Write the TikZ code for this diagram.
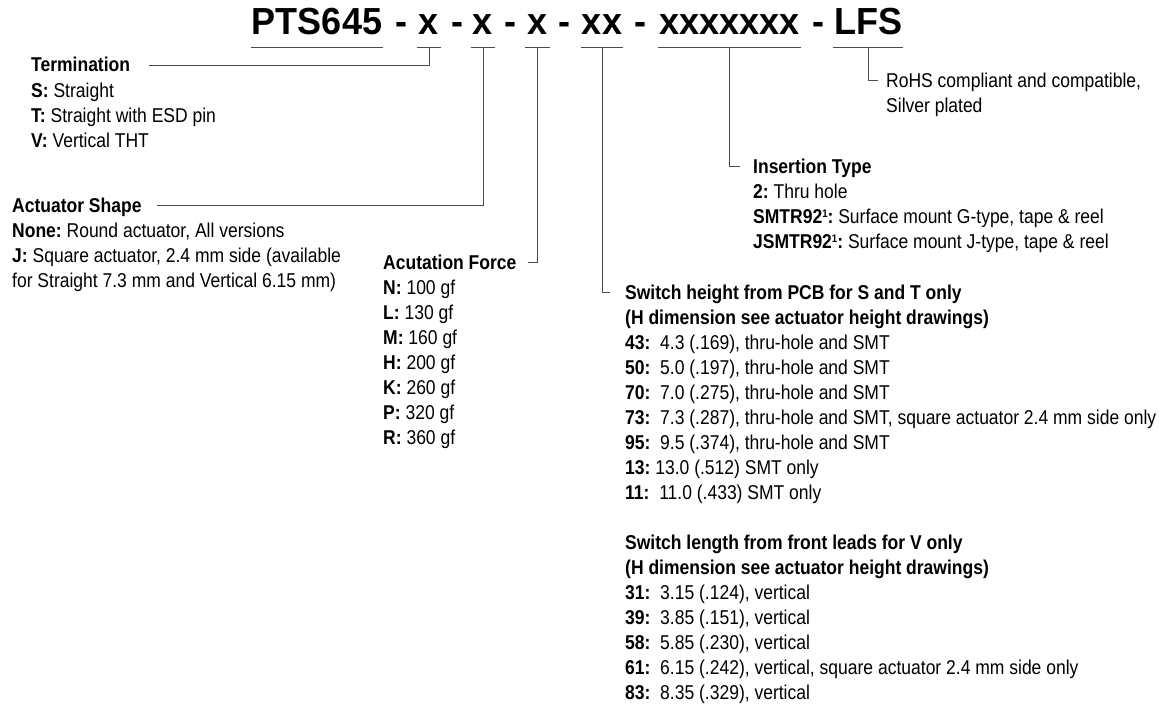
\documentclass[tikz,border=0pt]{standalone}
\usepackage{fontspec}
\setmainfont[FakeStretch=0.875]{Liberation Sans}
\newfontfamily\titlefont[FakeStretch=0.955]{Liberation Sans}
\newcommand\supone{\raisebox{6pt}{\fontsize{11}{11}\selectfont 1}}
\frenchspacing
\usetikzlibrary{positioning}
\tikzset{
  rule/.style={draw=black!70, line width=0.9pt},
  part/.style={font=\titlefont\bfseries\fontsize{37.7}{40}\selectfont, inner sep=0pt, anchor=base},
  hdr/.style={font=\bfseries\fontsize{20}{25}\selectfont, inner sep=0pt, anchor=base west},
  items/.style={font=\fontsize{20}{25}\selectfont, inner sep=0pt, align=left, anchor=north west},
}
\begin{document}
\begin{tikzpicture}[x=1pt,y=-1pt]
    \useasboundingbox (0,0) rectangle (1159,706);
    % part number
    \node[part] (pn) at (317,35) {PTS645};
    \node[part] (d1) at (401,35) {-};
    \node[part] (fa) at (429,35) {x};
    \node[part] (d2) at (457,35) {-};
    \node[part] (fb) at (483,35) {x};
    \node[part] (d3) at (510,35) {-};
    \node[part] (fc) at (537.5,35) {x};
    \node[part] (d4) at (564,35) {-};
    \node[part] (fd) at (602,35) {xx};
    \node[part] (d5) at (640,35) {-};
    \node[part] (fe) at (729.5,35) {xxxxxxx};
    \node[part] (d6) at (818,35) {-};
    \node[part] (fl) at (868,35) {LFS};
    \draw[rule] ([shift={(-1pt,-12pt)}]pn.base west) -- ([shift={(1pt,-12pt)}]pn.base east);
    \draw[rule] ([shift={(-2pt,-12pt)}]fa.base west) -- ([shift={(2pt,-12pt)}]fa.base east);
    \draw[rule] ([shift={(-2pt,-12pt)}]fb.base west) -- ([shift={(2pt,-12pt)}]fb.base east);
    \draw[rule] ([shift={(-2pt,-12pt)}]fc.base west) -- ([shift={(2pt,-12pt)}]fc.base east);
    \draw[rule] ([shift={(-1pt,-12pt)}]fd.base west) -- ([shift={(1pt,-12pt)}]fd.base east);
    \draw[rule] ([shift={(-1pt,-12pt)}]fe.base west) -- ([shift={(1pt,-12pt)}]fe.base east);
    \draw[rule] ([shift={(-1pt,-12pt)}]fl.base west) -- ([shift={(1pt,-12pt)}]fl.base east);
    % termination
    \node[hdr] (term) at (31,72) {Termination};
    \node[items, below=11pt of term.base west, anchor=north west] (termlist)
        {\textbf{S:} Straight\\ \textbf{T:} Straight with ESD pin\\ \textbf{V:} Vertical THT};
    \draw[rule] ([yshift=-12pt]fa.base) |- ([shift={(19pt,7pt)}]term.base east);
    % actuator shape
    \node[hdr] (shape) at (12,212) {Actuator Shape};
    \node[items, below=11pt of shape.base west, anchor=north west] (shapelist)
        {\textbf{None:} Round actuator, All versions\\
         \textbf{J:} Square actuator, 2.4 mm side (available\\
         for Straight 7.3 mm and Vertical 6.15 mm)};
    \draw[rule] ([yshift=-12pt]fb.base) |- ([shift={(15pt,7pt)}]shape.base east);
    % force
    \node[hdr] (force) at (383,269) {Acutation Force};
    \node[items, below=11pt of force.base west, anchor=north west] (forcelist)
        {\textbf{N:} 100 gf\\ \textbf{L:} 130 gf\\ \textbf{M:} 160 gf\\ \textbf{H:} 200 gf\\
         \textbf{K:} 260 gf\\ \textbf{P:} 320 gf\\ \textbf{R:} 360 gf};
    \draw[rule] ([yshift=-12pt]fc.base) |- ([shift={(11pt,7pt)}]force.base east);
    % switch height
    \node[hdr] (height) at (625,299) {Switch height from PCB for S and T only};
    \node[items, below=11pt of height.base west, anchor=north west] (heightlist)
        {\textbf{(H dimension see actuator height drawings)}\\
         \textbf{43:}\ \ 4.3 (.169), thru-hole and SMT\\
         \textbf{50:}\ \ 5.0 (.197), thru-hole and SMT\\
         \textbf{70:}\ \ 7.0 (.275), thru-hole and SMT\\
         \textbf{73:}\ \ 7.3 (.287), thru-hole and SMT, square actuator 2.4 mm side only\\
         \textbf{95:}\ \ 9.5 (.374), thru-hole and SMT\\
         \textbf{13:} 13.0 (.512) SMT only\\
         \textbf{11:}\ \ 11.0 (.433) SMT only};
    \draw[rule] ([yshift=-12pt]fd.base) |- ([shift={(-15pt,7pt)}]height.base west);
    % switch length
    \node[hdr] (length) at (625,549) {Switch length from front leads for V only};
    \node[items, below=11pt of length.base west, anchor=north west] (lengthlist)
        {\textbf{(H dimension see actuator height drawings)}\\
         \textbf{31:}\ \ 3.15 (.124), vertical\\
         \textbf{39:}\ \ 3.85 (.151), vertical\\
         \textbf{58:}\ \ 5.85 (.230), vertical\\
         \textbf{61:}\ \ 6.15 (.242), vertical, square actuator 2.4 mm side only\\
         \textbf{83:}\ \ 8.35 (.329), vertical};
    % insertion type
    \node[hdr] (insert) at (753,173) {Insertion Type};
    \node[items, below=11pt of insert.base west, anchor=north west] (insertlist)
        {\textbf{2:} Thru hole\\
         \textbf{SMTR92\supone:} Surface mount G-type, tape \& reel\\
         \textbf{JSMTR92\supone:} Surface mount J-type, tape \& reel};
    \draw[rule] ([yshift=-12pt]fe.base) |- ([shift={(-13pt,7pt)}]insert.base west);
    % lead free
    \node[items] (rohs) at (886,73) {RoHS compliant and compatible,\\ Silver plated};
    \draw[rule] ([yshift=-12pt]fl.base) |- ([shift={(-8pt,-7pt)}]rohs.north west);
\end{tikzpicture}
\end{document}
